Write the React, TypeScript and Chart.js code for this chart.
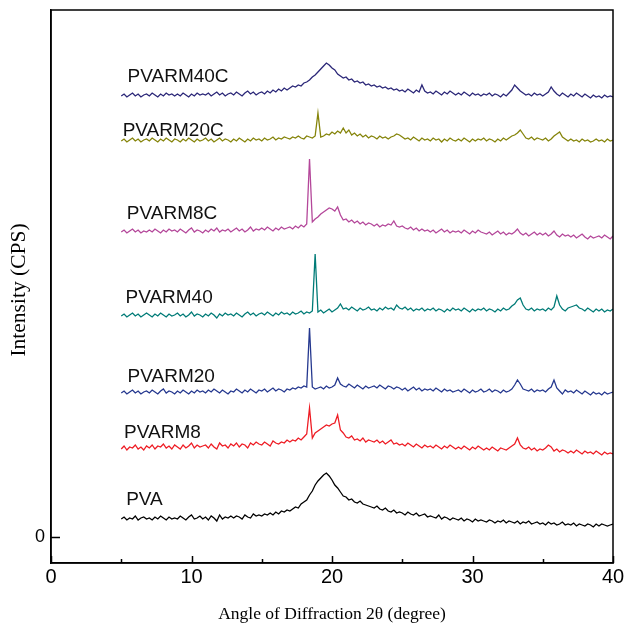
import React, { useEffect, useRef } from "react";
import { Chart, registerables } from "chart.js";

Chart.register(...registerables);

// 2θ grid: 5.0 … 40.0 in 0.2° steps (176 points)
const angles: number[] = Array.from({ length: 176 }, (_, i) => +(5 + i * 0.2).toFixed(1));

const seriesNames = ["PVA", "PVARM8", "PVARM20", "PVARM40", "PVARM8C", "PVARM20C", "PVARM40C"];
const seriesColors = ["#000000", "#ee1c24", "#25388f", "#007b77", "#b4479a", "#85840a", "#2b2778"];

const pva = [
  18, 20, 17, 19, 18, 21, 17, 19, 20, 18,
  19, 17, 20, 18, 21, 19, 17, 20, 18, 19,
  18, 21, 19, 17, 20, 22, 18, 19, 21, 18,
  20, 17, 21, 19, 16, 22, 18, 20, 19, 21,
  19, 21, 20, 18, 22, 20, 19, 23, 21, 22,
  21, 23, 22, 24, 22, 25, 23, 26, 25, 27,
  26, 28, 30, 29, 33, 35, 37, 42, 46, 52,
  56, 59, 62, 64, 61, 57, 52, 49, 45, 41,
  40, 37, 38, 35, 34, 36, 33, 32, 31, 30,
  29, 31, 28, 27, 29, 26, 25, 27, 24, 25,
  24, 22, 25, 23, 22, 24, 21, 22, 23, 20,
  21, 20, 19, 22, 18, 20, 19, 17, 19, 18,
  17, 19, 16, 18, 17, 15, 18, 16, 17, 16,
  15, 17, 16, 14, 16, 15, 17, 14, 16, 15,
  14, 16, 13, 15, 14, 16, 13, 14, 15, 13,
  14, 12, 15, 13, 14, 12, 13, 15, 12, 13,
  12, 14, 11, 13, 12, 11, 13, 12, 10, 13,
  11, 13, 12, 11, 12, 13,
];

const pvarm8 = [
  88, 91, 87, 90, 89, 92, 88, 90, 87, 91,
  89, 92, 88, 91, 90, 93, 89, 91, 88, 92,
  90, 88, 92, 89, 91, 94, 89, 92, 90, 91,
  92, 89, 93, 90, 88, 94, 91, 92, 89, 93,
  91, 94, 90, 93, 92, 89, 94, 92, 95, 93,
  92, 95, 93, 91, 96, 94, 93, 95, 94, 97,
  95, 97, 96, 99, 97, 100, 103, 129, 99, 104,
  106, 108, 110, 112, 111, 113, 114, 122, 107, 104,
  100, 99, 101, 97, 98, 96, 99, 95, 97, 96,
  95, 97, 94, 96, 93, 95, 97, 93, 94, 92,
  93, 91, 94, 92, 90, 93, 91, 89, 92, 90,
  91, 89, 92, 90, 88, 91, 89, 92, 90, 88,
  90, 88, 91, 89, 87, 90, 88, 91, 89, 87,
  89, 87, 90, 88, 86, 89, 88, 87, 89, 91,
  93, 99, 92, 89, 88, 90, 87, 89, 86, 88,
  87, 89, 92, 90, 86, 88, 85, 87, 86, 84,
  86, 84, 87, 85, 83, 86, 84, 85, 83, 86,
  84, 82, 85, 83, 84, 83,
];

const pvarm20 = [
  144, 146, 143, 145, 147, 144, 146, 143, 145, 146,
  144, 147, 145, 143, 146, 148, 144, 146, 145, 143,
  146, 144, 147, 145, 143, 146, 144, 147, 145, 146,
  144, 147, 145, 148, 146, 144, 147, 145, 143, 146,
  145, 148, 146, 144, 147, 145, 148, 146, 144, 147,
  146, 148, 145, 147, 149, 146, 148, 147, 145, 148,
  147, 149, 148, 150, 149, 151, 150, 209, 150, 148,
  149, 150, 148, 151, 149, 150, 152, 159, 153, 151,
  150, 153, 151, 149, 152, 150, 148, 151, 149, 150,
  151, 149, 152, 150, 148, 151, 150, 148, 150, 149,
  147, 149, 146, 148, 150, 147, 149, 146, 148, 147,
  148, 146, 149, 147, 145, 148, 146, 147, 145, 146,
  147, 145, 148, 146, 144, 147, 145, 146, 148, 145,
  146, 148, 145, 147, 146, 144, 147, 145, 146, 148,
  152, 157, 153, 148, 147, 146, 148, 145, 147, 146,
  147, 145, 148, 150, 157, 149, 146, 143, 147, 145,
  146, 144, 147, 145, 143, 146, 144, 142, 145, 143,
  144, 142, 145, 143, 144, 145,
];

const pvarm40 = [
  221, 223, 220, 222, 224, 221, 223, 220, 222, 224,
  222, 220, 223, 221, 224, 222, 220, 223, 221, 222,
  224, 221, 223, 220, 222, 225, 221, 223, 222, 220,
  223, 221, 224, 222, 219, 223, 221, 224, 222, 223,
  221, 224, 222, 220, 223, 225, 222, 224, 221, 223,
  224, 222, 225, 223, 221, 224, 222, 225, 223, 224,
  222, 225, 223, 224, 226, 223, 225, 224, 226, 283,
  225, 227, 224, 226, 228, 225, 227, 229, 233, 228,
  229, 227, 230, 228, 226, 229, 227, 228, 230, 227,
  228, 226, 229, 227, 230, 228, 229, 227, 232, 229,
  228, 230, 227, 229, 226, 228, 227, 229, 226, 228,
  227, 229, 226, 228, 227, 225, 228, 226, 229, 227,
  228, 226, 229, 227, 225, 228, 226, 228, 227, 229,
  226, 228, 227, 225, 228, 226, 229, 227, 228, 231,
  233, 237, 239, 232, 228, 227, 229, 226, 228, 227,
  228, 226, 229, 227, 230, 241, 232, 228, 226, 229,
  230, 231, 232, 229, 228, 226, 229, 227, 225, 228,
  226, 228, 225, 227, 226, 228,
];

const pvarm8c = [
  305, 307, 304, 306, 308, 305, 307, 304, 306, 305,
  307, 305, 308, 306, 304, 307, 305, 308, 306, 307,
  305, 308, 306, 304, 307, 309, 305, 307, 306, 304,
  307, 305, 308, 306, 309, 305, 307, 306, 308, 305,
  307, 309, 306, 308, 305, 307, 310, 306, 308, 307,
  309, 307, 310, 308, 306, 309, 307, 310, 308, 309,
  310, 308, 311, 309, 312, 310, 313, 378, 315, 318,
  320, 323, 325, 327, 329, 328, 326, 330, 322, 317,
  318, 315, 317, 314, 316, 313, 315, 312, 314, 313,
  311, 313, 310, 312, 311, 313, 312, 316, 311, 310,
  311, 309, 308, 310, 307, 309, 306, 308, 306, 307,
  305, 307, 304, 306, 308, 305, 307, 304, 306, 305,
  306, 304, 307, 305, 303, 306, 304, 307, 305, 304,
  303, 305, 302, 304, 306, 303, 305, 302, 304, 303,
  305, 308, 304, 302, 304, 301, 303, 305, 302, 304,
  302, 304, 301, 303, 306, 302, 300, 303, 301, 302,
  300, 302, 299, 301, 303, 300, 298, 301, 299, 300,
  301, 299, 302, 300, 298, 301,
];

const pvarm20c = [
  396, 398, 395, 397, 399, 396, 398, 395, 397, 398,
  396, 399, 397, 395, 398, 396, 399, 397, 395, 398,
  397, 395, 398, 396, 399, 397, 395, 398, 396, 397,
  399, 396, 398, 395, 397, 399, 396, 398, 397, 395,
  398, 396, 399, 397, 395, 398, 396, 399, 397, 398,
  396, 399, 397, 398, 400, 397, 399, 398, 400, 399,
  398, 400, 399, 401, 399, 398, 401, 400, 399, 401,
  424, 400, 401, 403, 402, 405, 403, 406, 404, 409,
  404, 407, 402, 404, 401, 403, 400, 402, 399, 401,
  400, 398, 401, 399, 400, 398, 400, 401, 403, 402,
  400, 398, 399, 397, 400, 398, 396, 399, 397, 398,
  396, 399, 397, 398, 395, 398, 396, 399, 397, 396,
  398, 396, 399, 397, 395, 398, 396, 398, 397, 399,
  396, 398, 397, 395, 398, 396, 399, 397, 399, 401,
  402, 404, 407, 403, 399, 398, 400, 397, 399, 398,
  397, 399, 396, 398, 401, 403, 405, 400, 398, 396,
  398, 396, 397, 395, 398, 396, 397, 395, 396, 398,
  396, 397, 395, 398, 396, 397,
];

const pvarm40c = [
  441, 443, 440, 442, 444, 441, 443, 440, 442, 443,
  441, 444, 442, 440, 443, 441, 444, 442, 443, 441,
  443, 441, 444, 442, 440, 443, 441, 444, 442, 443,
  442, 444, 441, 443, 445, 442, 444, 441, 443, 444,
  442, 445, 443, 441, 444, 446, 443, 445, 442, 444,
  445, 443, 446, 444, 447, 445, 448, 446, 449, 447,
  449, 451, 450, 452, 451, 454, 455, 457, 460, 462,
  465, 468, 471, 474, 472, 469, 467, 463, 461, 459,
  460, 457, 458, 455, 456, 454, 455, 452, 453, 451,
  452, 450, 451, 449, 450, 448, 449, 447, 448, 446,
  447, 445, 448, 446, 444, 447, 445, 452, 446, 444,
  445, 443, 446, 444, 442, 445, 443, 446, 444, 442,
  444, 442, 445, 443, 441, 444, 442, 443, 441, 443,
  442, 444, 441, 443, 442, 440, 443, 441, 444, 447,
  452, 449, 446, 444, 442, 443, 441, 444, 442, 443,
  441, 443, 445, 450, 446, 443, 441, 444, 442, 440,
  443, 441, 444, 442, 440, 443, 441, 439, 442, 440,
  441, 439, 442, 440, 441, 440,
];

const seriesValues = [pva, pvarm8, pvarm20, pvarm40, pvarm8c, pvarm20c, pvarm40c];

// curve labels (2θ position of left edge, intensity of text baseline)
const labelX = [5.35, 5.2, 5.45, 5.3, 5.4, 5.1, 5.45];
const labelY = [32, 99, 155, 234, 318, 401, 455];

const xTicks = [0, 10, 20, 30, 40];
const xMinorTicks = [5, 15, 25, 35];
const yTicks = [0];

const xTitle = "Angle of Diffraction 2θ (degree)";
const yTitle = "Intensity (CPS)";

export default function App() {
  const ref = useRef<HTMLCanvasElement | null>(null);

  useEffect(() => {
    if (!ref.current) return;
    const decor = {
      id: "decor",
      afterDraw(chart: any) {
        const ctx = chart.ctx as CanvasRenderingContext2D;
        const a = chart.chartArea;
        const xs = chart.scales.x;
        const ys = chart.scales.y;
        ctx.save();
        ctx.strokeStyle = "#000";
        ctx.lineWidth = 1.5;
        ctx.strokeRect(a.left, a.top, a.right - a.left, a.bottom - a.top);
        ctx.beginPath();
        xTicks.forEach((v) => {
          const px = Math.round(xs.getPixelForValue(v)) + 0.5;
          ctx.moveTo(px, a.bottom);
          ctx.lineTo(px, a.bottom - 7);
        });
        xMinorTicks.forEach((v) => {
          const px = Math.round(xs.getPixelForValue(v)) + 0.5;
          ctx.moveTo(px, a.bottom);
          ctx.lineTo(px, a.bottom - 4);
        });
        yTicks.forEach((v) => {
          const py = Math.round(ys.getPixelForValue(v)) + 0.5;
          ctx.moveTo(a.left, py);
          ctx.lineTo(a.left + 9, py);
        });
        ctx.stroke();

        ctx.font = '19px "Liberation Sans", Arial, sans-serif';
        ctx.textAlign = "left";
        ctx.textBaseline = "alphabetic";
        ctx.fillStyle = "#111";
        seriesNames.forEach((n, i) => {
          ctx.fillText(n, xs.getPixelForValue(labelX[i]), ys.getPixelForValue(labelY[i]));
        });

        ctx.fillStyle = "#000";
        ctx.font = '17.5px "Liberation Serif", "Times New Roman", serif';
        ctx.textAlign = "center";
        ctx.textBaseline = "alphabetic";
        ctx.fillText(xTitle, (a.left + a.right) / 2, 619);
        ctx.font = '21.5px "Liberation Serif", "Times New Roman", serif';
        ctx.translate(25, 290);
        ctx.rotate(-Math.PI / 2);
        ctx.fillText(yTitle, 0, 0);
        ctx.restore();
      },
    };

    const chart = new Chart(ref.current, {
      type: "line",
      data: {
        labels: angles,
        datasets: seriesNames.map((n, i) => ({
          label: n,
          data: seriesValues[i].map((v, j) => ({ x: angles[j], y: v })),
          borderColor: seriesColors[i],
          backgroundColor: seriesColors[i],
          borderWidth: 1.3,
          pointRadius: 0,
          tension: 0,
          fill: false,
        })),
      },
      options: {
        responsive: false,
        animation: false,
        devicePixelRatio: 1,
        layout: { padding: { left: 0, right: 13, top: 10, bottom: 0 } },
        plugins: { legend: { display: false }, tooltip: { enabled: false }, title: { display: false } },
        scales: {
          x: {
            type: "linear",
            min: 0,
            max: 40,
            afterBuildTicks: (s: any) => {
              s.ticks = xTicks.map((v) => ({ value: v }));
            },
            ticks: { color: "#000", font: { size: 20, family: '"Liberation Sans", Arial, sans-serif' }, padding: 2, maxRotation: 0 },
            grid: { display: false, drawTicks: false },
            border: { display: true, color: "#000", width: 1.5 },
            afterFit: (s: any) => {
              s.height = 61;
              s.paddingLeft = 0;
              s.paddingRight = 0;
            },
          },
          y: {
            type: "linear",
            min: -26,
            max: 527,
            afterBuildTicks: (s: any) => {
              s.ticks = yTicks.map((v) => ({ value: v }));
            },
            ticks: { color: "#000", font: { size: 18, family: '"Liberation Sans", Arial, sans-serif' }, padding: 6 },
            grid: { display: false, drawTicks: false },
            border: { display: true, color: "#000", width: 1.5 },
            afterFit: (s: any) => {
              s.width = 51;
              s.paddingTop = 0;
              s.paddingBottom = 0;
            },
          },
        },
      },
      plugins: [decor],
    });
    return () => chart.destroy();
  }, []);

  return (
    <div style={{ position: "fixed", left: 0, top: 0, width: 626, height: 624, background: "#fff" }}>
      <canvas ref={ref} width={626} height={624} style={{ width: 626, height: 624 }} />
    </div>
  );
}
